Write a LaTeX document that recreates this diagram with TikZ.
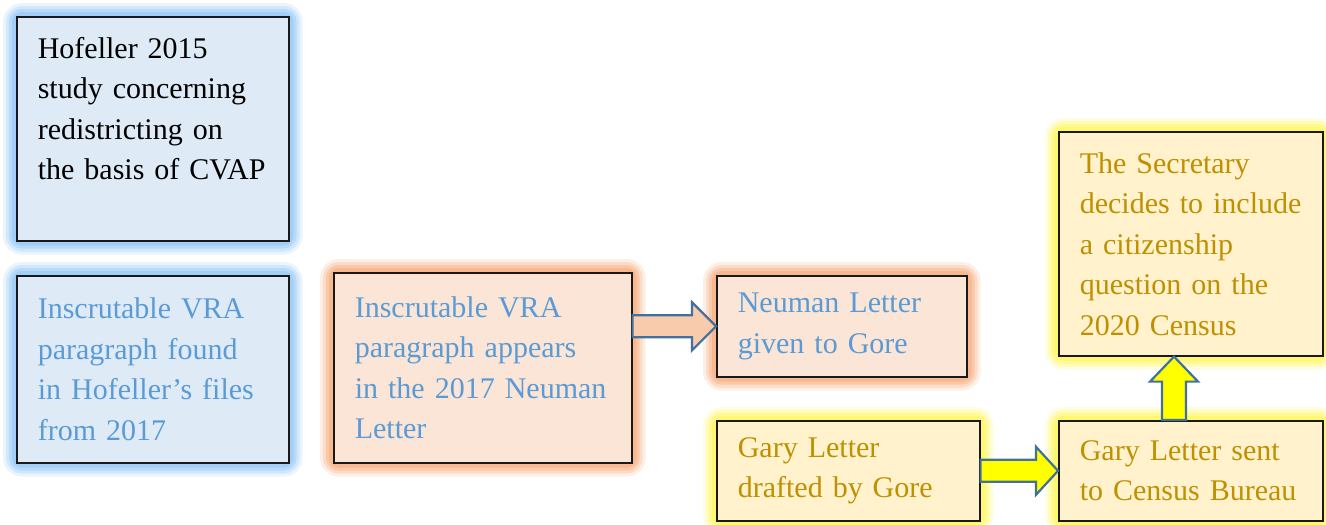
\documentclass[tikz,border=0pt]{standalone}
\usepackage{fontspec}
\setmainfont{Liberation Serif}
\usetikzlibrary{calc,backgrounds}
\definecolor{bluefill}{HTML}{DEEBF7}
\definecolor{bluetext}{HTML}{5B9BD5}
\definecolor{blueglow}{HTML}{8EC4F5}
\definecolor{orfill}{HTML}{FBE5D6}
\definecolor{orglow}{HTML}{F6A877}
\definecolor{yefill}{HTML}{FFF2CC}
\definecolor{yetext}{HTML}{BF9000}
\definecolor{yeglow}{HTML}{FFF550}
\definecolor{arrline}{HTML}{41719C}
\definecolor{arrorange}{HTML}{F8CBAD}
\definecolor{arryellow}{HTML}{FFFF00}
\newcommand\glowbox[2]{%
  \foreach \w/\o in {26/0.18,20/0.28,14/0.38,8/0.5}{%
    \draw[#2, line width=\w pt, opacity=\o, rounded corners=6pt] (#1.north west) rectangle (#1.south east);}}
\tikzset{
  box/.style={draw=black!90, line width=1.6pt, anchor=north west, align=left,
    inner xsep=21pt, inner ysep=0pt, font=\fontsize{30}{40.5}\selectfont},
  bluebox/.style={box, fill=bluefill, text=bluetext},
  orbox/.style={box, fill=orfill, text=bluetext},
  yebox/.style={box, fill=yefill, text=yetext},
  blockarrow/.style={draw=arrline, line width=2.2pt, line join=miter},
}
\begin{document}
\begin{tikzpicture}[x=1pt,y=-1pt]
\useasboundingbox (0,0) rectangle (1326,525);
\node[bluebox, text=black, text width=230pt, minimum height=224pt] (A) at (16,16)
  {Hofeller 2015\\study concerning\\redistricting on\\the basis of CVAP\\\mbox{}};
\node[bluebox, text width=230pt, minimum height=187pt] (B) at (16,275)
  {Inscrutable VRA\\paragraph found\\in Hofeller’s files\\from 2017};
\node[orbox, text width=256pt, minimum height=190pt] (C) at (333,272)
  {Inscrutable VRA\\paragraph appears\\in the 2017 Neuman\\Letter};
\node[orbox, text width=208pt, minimum height=101pt] (D) at (716,275)
  {Neuman Letter\\given to Gore};
\node[yebox, text width=221pt, minimum height=100pt] (E) at (716,420)
  {Gary Letter\\drafted by Gore};
\node[yebox, text width=222pt, minimum height=100pt] (F) at (1058,420)
  {Gary Letter sent\\to Census Bureau};
\node[yebox, text width=222pt, minimum height=224pt] (G) at (1058,131)
  {The Secretary\\decides to include\\a citizenship\\question on the\\2020 Census};
\begin{scope}[on background layer]
  \glowbox{A}{blueglow}
  \glowbox{B}{blueglow}
  \glowbox{C}{orglow}
  \glowbox{D}{orglow}
  \glowbox{E}{yeglow}
  \glowbox{F}{yeglow}
  \glowbox{G}{yeglow}
\end{scope}
% arrow C -> D
\draw[blockarrow, fill=arrorange]
  ($(C.east |- D.west)+(0,-11)$) -- ($(D.west)+(-24,-11)$) -- ($(D.west)+(-24,-24)$)
  -- (D.west) -- ($(D.west)+(-24,24)$) -- ($(D.west)+(-24,11)$)
  -- ($(C.east |- D.west)+(0,11)$) -- cycle;
% arrow E -> F
\draw[blockarrow, fill=arryellow]
  ($(E.east |- F.west)+(0,-11)$) -- ($(F.west)+(-22,-11)$) -- ($(F.west)+(-22,-24)$)
  -- (F.west) -- ($(F.west)+(-22,24)$) -- ($(F.west)+(-22,11)$)
  -- ($(E.east |- F.west)+(0,11)$) -- cycle;
% arrow F -> G
\coordinate (fb) at ($(F.north west)+(116,0)$);
\coordinate (gt) at (fb |- G.south);
\draw[blockarrow, fill=arryellow]
  ($(fb)+(-12,0)$) -- ($(gt)+(-12,25)$) -- ($(gt)+(-24,25)$) -- (gt)
  -- ($(gt)+(24,25)$) -- ($(gt)+(12,25)$) -- ($(fb)+(12,0)$) -- cycle;
\end{tikzpicture}
\end{document}
